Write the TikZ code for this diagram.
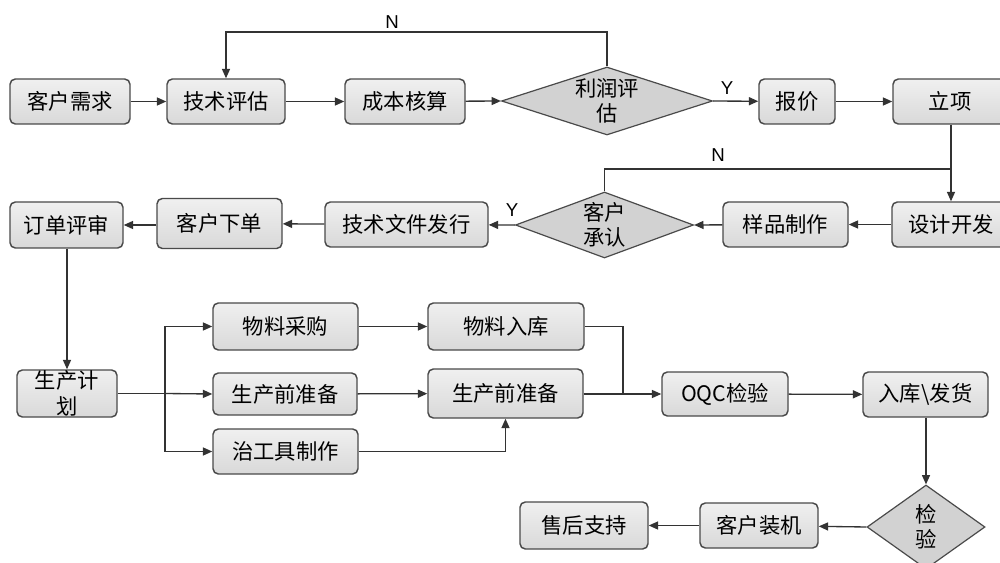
\documentclass[tikz,border=0pt]{standalone}
\usepackage{fontspec}
\setmainfont{Noto Sans CJK SC}
\newfontfamily\latinf{Liberation Sans}
\usetikzlibrary{arrows.meta,shapes.geometric}
\definecolor{boxborder}{HTML}{4A4A4A}
\definecolor{linec}{HTML}{333333}
\tikzset{
  box/.style={draw=boxborder, line width=1.1pt, rounded corners=4pt,
    top color=gray!12, bottom color=gray!30, inner sep=0pt,
    font=\fontsize{16}{19}\selectfont, align=center},
  dia/.style={diamond, aspect=3, draw=boxborder, line width=0.9pt, fill=gray!35,
    inner sep=0pt, font=\fontsize{16}{19}\selectfont, align=center},
  conn/.style={draw=linec, line width=1pt},
  arr/.style={conn, -{Triangle[length=7pt,width=6pt]}},
  yn/.style={font=\latinf\fontsize{14}{16}\selectfont, inner sep=0pt}
}
\begin{document}
\begin{tikzpicture}[x=0.75pt,y=-0.75pt]
\useasboundingbox (0,0) rectangle (1000,563);
\fill[white] (0,0) rectangle (1000,563);
% row 1
\node[box, minimum width=120*0.75pt, minimum height=45*0.75pt] (n1) at (70,101.5) {客户需求};
\node[box, minimum width=118*0.75pt, minimum height=45*0.75pt] (n2) at (226,101.5) {技术评估};
\node[box, minimum width=120*0.75pt, minimum height=45*0.75pt] (n3) at (405,101.5) {成本核算};
\node[dia, minimum width=211*0.75pt, minimum height=68*0.75pt] (d1) at (607,101) {利润评\\估};
\node[box, minimum width=76*0.75pt, minimum height=45*0.75pt] (n4) at (797,101.5) {报价};
\node[box, minimum width=114*0.75pt, minimum height=45*0.75pt] (n5) at (950,101.5) {立项};
% row 2
\node[box, minimum width=118*0.75pt, minimum height=45*0.75pt] (n6) at (951,224.5) {设计开发};
\node[box, minimum width=125*0.75pt, minimum height=45*0.75pt] (n7) at (785.5,224.5) {样品制作};
\node[dia, minimum width=155*0.75pt, minimum height=66*0.75pt] (d2) at (604.5,225) {客户\\承认};
\node[box, minimum width=163*0.75pt, minimum height=45*0.75pt] (n8) at (406.5,224.5) {技术文件发行};
\node[box, minimum width=125*0.75pt, minimum height=50*0.75pt] (n9) at (219.5,223.5) {客户下单};
\node[box, minimum width=113*0.75pt, minimum height=46*0.75pt] (n10) at (66.5,225) {订单评审};
% row 3
\node[box, minimum width=100*0.75pt, minimum height=47*0.75pt] (n11) at (67,393.5) {生产计\\划};
\node[box, minimum width=145*0.75pt, minimum height=47*0.75pt] (n12) at (285.5,326.5) {物料采购};
\node[box, minimum width=144*0.75pt, minimum height=42*0.75pt] (n13) at (285,394) {生产前准备};
\node[box, minimum width=145*0.75pt, minimum height=45*0.75pt] (n14) at (285.5,451.5) {治工具制作};
\node[box, minimum width=156*0.75pt, minimum height=47*0.75pt] (n15) at (506,326.5) {物料入库};
\node[box, minimum width=155*0.75pt, minimum height=49*0.75pt] (n16) at (505.5,393.5) {生产前准备};
\node[box, minimum width=126*0.75pt, minimum height=44*0.75pt] (n17) at (725,394) {OQC检验};
\node[box, minimum width=125*0.75pt, minimum height=45*0.75pt] (n18) at (925.5,394.5) {入库\textbackslash 发货};
% row 4
\node[dia, aspect=1.4, minimum width=118*0.75pt, minimum height=84*0.75pt] (d3) at (926,527) {检\\验};
\node[box, minimum width=118*0.75pt, minimum height=45*0.75pt] (n19) at (759,525.5) {客户装机};
\node[box, minimum width=128*0.75pt, minimum height=47*0.75pt] (n20) at (584,525.5) {售后支持};
% junctions
\coordinate (j0) at (607,32);
\coordinate (j1) at (951,169);
\coordinate (b1) at (165,393.5);
\coordinate (j2) at (623,393.5);
% connectors row 1
\draw[arr] (n1) -- (n2);
\draw[arr] (n2) -- (n3);
\draw[arr] (n3) -- (d1.west);
\draw[arr] (d1.east) -- (n4);
\draw[arr] (n4) -- (n5);
\draw[arr] (d1.north) -- (j0) -| (n2.north);
\node[yn] (lN1) at (392,22) {N};
\node[yn] (lY1) at (727,88) {Y};
% row 2
\draw[arr] (n5.south -| j1) -- (n6.north -| j1);
\draw[conn] (d2.north) |- (j1);
\node[yn] (lN2) at (718,155) {N};
\draw[arr] (n6) -- (n7);
\draw[arr] (n7) -- (d2.east);
\draw[arr] (d2.west) -- (n8);
\node[yn] (lY2) at (512,210) {Y};
\draw[arr] (n8) -- (n9);
\draw[arr] (n9.west |- n10) -- (n10);
\draw[arr] (n10.south -| n11) -- (n11.north);
% row 3
\draw[conn] (n11.east) -- (b1);
\draw[arr] (b1) |- (n12.west);
\draw[arr] (b1) -- (n13.west);
\draw[arr] (b1) |- (n14.west);
\draw[arr] (n12) -- (n15);
\draw[arr] (n13) -- (n16);
\draw[arr] (n14.east) -| (n16.south);
\draw[conn] (n15.east) -| (j2);
\draw[arr] (n16.east |- n17) -- (n17);
\draw[arr] (n17) -- (n18);
\draw[arr] (n18.south -| d3) -- (d3.north);
% row 4
\draw[arr] (d3.west) -- (n19);
\draw[arr] (n19) -- (n20);
\end{tikzpicture}
\end{document}
